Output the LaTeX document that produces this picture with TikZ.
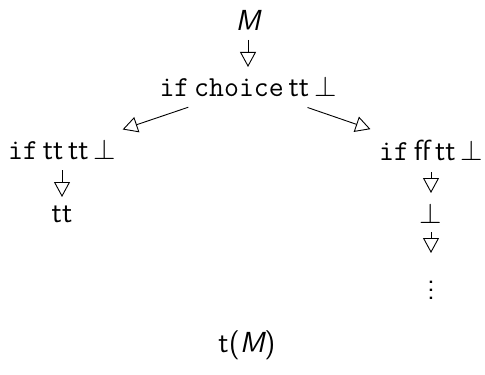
\documentclass[tikz,border=0pt]{standalone}
\usetikzlibrary{arrows.meta}
\tikzset{
  % --- terms of the reduction tree ---
  term/.style={inner sep=0pt, font=\fontsize{14.5}{17}\sffamily},
  % --- reduction steps ---
  redstep/.style={-{Triangle[open, length=7.5pt, width=8pt]}, line width=0.45pt},
  branch/.style={redstep, shorten <=31.5pt, shorten >=32pt},
}
\newcommand{\kw}[1]{{\fontsize{14.5}{17}\ttfamily #1}}

\begin{document}
\begin{tikzpicture}[x=0.5pt, y=-0.5pt]
    \useasboundingbox (0,0) rectangle (485,374);
    % terms
    \node[term] (m)     at (248,20)  {\slshape M};
    \node[term] (root)  at (248,87)  {\kw{if}\,\kw{choice}\,tt\,$\bot$};
    \node[term] (left)  at (62,150)  {\kw{if}\,tt\,tt\,$\bot$};
    \node[term] (lres)  at (62,214)  {tt};
    \node[term] (right) at (431,150) {\kw{if}\,ff\,tt\,$\bot$};
    \node[term] (rbot)  at (431,213) {$\bot$};
    \node[term] (rdots) at (431,284) {$\vdots$};
    \node[term] (tm)    at (247,345) {t({\slshape M})};
    % reduction steps
    \draw[redstep, shorten <=10pt, shorten >=10pt] (m.center) -- (root.center);
    \draw[branch] (root.center) -- (left.center);
    \draw[branch] (root.center) -- (right.center);
    \draw[redstep, shorten <=10pt, shorten >=8.5pt] (left.center) -- (lres.center);
    \draw[redstep, shorten <=11pt, shorten >=10pt] (right.center) -- (rbot.center);
    \draw[redstep, shorten <=9.5pt, shorten >=15.5pt] (rbot.center) -- (rdots.center);
\end{tikzpicture}
\end{document}
